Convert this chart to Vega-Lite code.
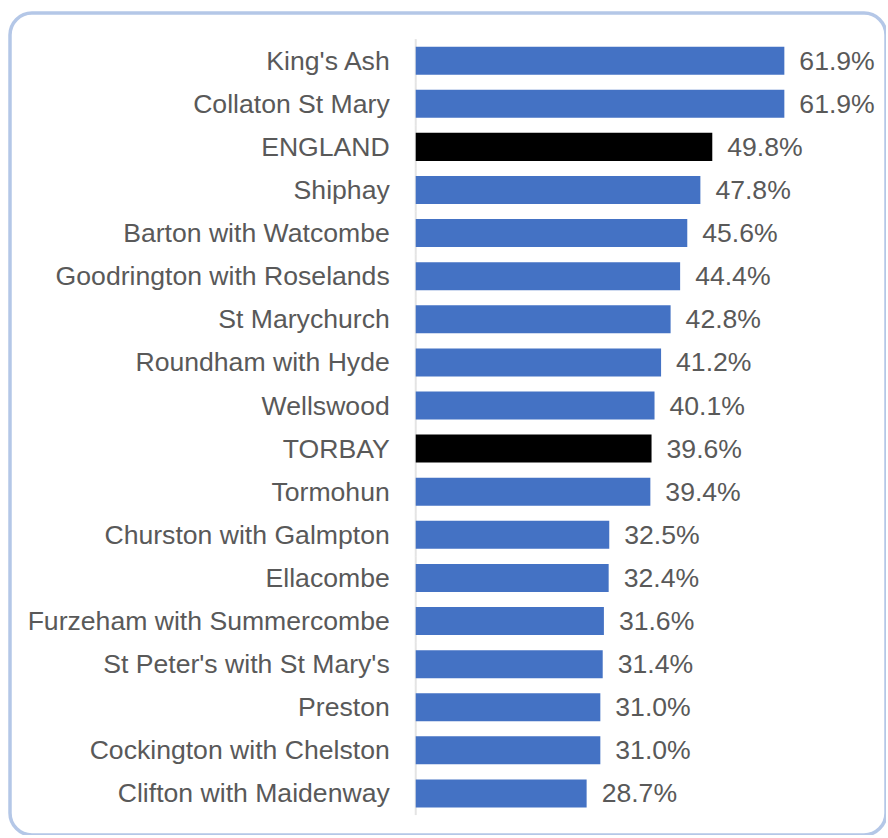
{
  "$schema": "https://vega.github.io/schema/vega-lite/v6.json",
  "width": 876,
  "height": 822,
  "autosize": {"type": "none"},
  "padding": {"left": 10, "top": 13, "right": 0, "bottom": 0},
  "background": "white",
  "config": {
    "view": {"stroke": "#b4c7e7", "strokeWidth": 3.5, "cornerRadius": 22},
    "font": "Liberation Sans"
  },
  "data": {
    "values": [
      {"area": "King's Ash", "value": 0.619, "type": "ward"},
      {"area": "Collaton St Mary", "value": 0.619, "type": "ward"},
      {"area": "ENGLAND", "value": 0.498, "type": "benchmark"},
      {"area": "Shiphay", "value": 0.478, "type": "ward"},
      {"area": "Barton with Watcombe", "value": 0.456, "type": "ward"},
      {"area": "Goodrington with Roselands", "value": 0.444, "type": "ward"},
      {"area": "St Marychurch", "value": 0.428, "type": "ward"},
      {"area": "Roundham with Hyde", "value": 0.412, "type": "ward"},
      {"area": "Wellswood", "value": 0.401, "type": "ward"},
      {"area": "TORBAY", "value": 0.396, "type": "benchmark"},
      {"area": "Tormohun", "value": 0.394, "type": "ward"},
      {"area": "Churston with Galmpton", "value": 0.325, "type": "ward"},
      {"area": "Ellacombe", "value": 0.324, "type": "ward"},
      {"area": "Furzeham with Summercombe", "value": 0.316, "type": "ward"},
      {"area": "St Peter's with St Mary's", "value": 0.314, "type": "ward"},
      {"area": "Preston", "value": 0.310, "type": "ward"},
      {"area": "Cockington with Chelston", "value": 0.310, "type": "ward"},
      {"area": "Clifton with Maidenway", "value": 0.287, "type": "ward"}
    ]
  },
  "encoding": {
    "y": {
      "field": "area",
      "type": "nominal",
      "sort": null,
      "scale": {"paddingInner": 0.35, "paddingOuter": 0.71, "align": 0.55},
      "axis": null
    }
  },
  "layer": [
    {
      "mark": {"type": "tick", "color": "#d9d9d9", "thickness": 2, "size": 43.2},
      "encoding": {
        "x": {"datum": 0, "type": "quantitative", "scale": {"domain": [-0.6813, 0.7897], "nice": false, "zero": false}, "axis": null}
      }
    },
    {
      "mark": {"type": "bar"},
      "encoding": {
        "x": {"field": "value", "type": "quantitative", "scale": {"domain": [-0.6813, 0.7897], "nice": false, "zero": false}, "axis": null},
        "x2": {"datum": 0},
        "color": {"field": "type", "type": "nominal", "scale": {"domain": ["ward", "benchmark"], "range": ["#4472c4", "#000000"]}, "legend": null}
      }
    },
    {
      "mark": {"type": "text", "align": "left", "baseline": "middle", "dx": 15, "dy": 1, "fontSize": 26.6, "color": "#595959"},
      "encoding": {
        "x": {"field": "value", "type": "quantitative"},
        "text": {"field": "value", "type": "quantitative", "format": ".1%"}
      }
    },
    {
      "mark": {"type": "text", "align": "right", "baseline": "middle", "dx": -26, "dy": 1, "fontSize": 26.6, "color": "#595959"},
      "encoding": {
        "x": {"datum": 0, "type": "quantitative"},
        "text": {"field": "area", "type": "nominal"}
      }
    }
  ]
}
